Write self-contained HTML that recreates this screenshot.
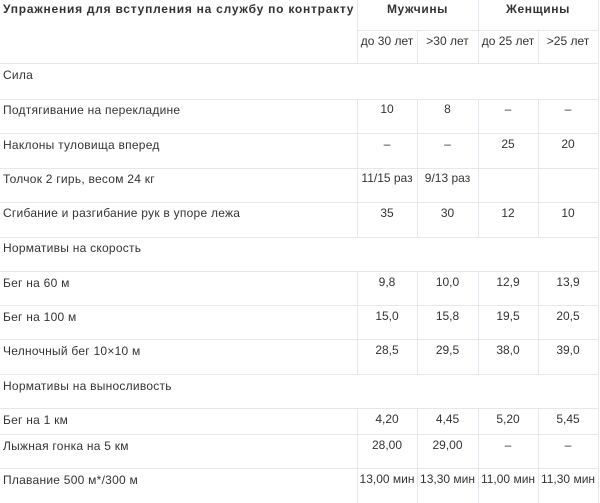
<!DOCTYPE html>
<html><head><meta charset="utf-8">
<style>
html,body{margin:0;padding:0;background:#fff;}
body{width:600px;height:503px;position:relative;overflow:hidden;font-family:"Liberation Sans","DejaVu Sans",sans-serif;font-size:12px;color:#333;}
.h{position:absolute;height:1px;background:#e6e6ec;}
.v{position:absolute;width:1px;background:#e6e6ec;}
.t{position:absolute;line-height:16px;white-space:nowrap;letter-spacing:0.25px;}
.c{position:absolute;line-height:16px;white-space:nowrap;text-align:center;}
.b{font-weight:bold;}
.t.b{letter-spacing:0.75px;}
.c.b{letter-spacing:0.6px;}
</style></head><body>
<!-- horizontal lines -->
<div class="h" style="left:357px;width:242px;top:30px"></div>
<div class="h" style="left:0;width:599px;top:63px"></div>
<div class="h" style="left:0;width:599px;top:99px"></div>
<div class="h" style="left:0;width:599px;top:133px"></div>
<div class="h" style="left:0;width:599px;top:168px"></div>
<div class="h" style="left:0;width:599px;top:202px"></div>
<div class="h" style="left:0;width:599px;top:237px"></div>
<div class="h" style="left:0;width:599px;top:271px"></div>
<div class="h" style="left:0;width:599px;top:305px"></div>
<div class="h" style="left:0;width:599px;top:339px"></div>
<div class="h" style="left:0;width:599px;top:374px"></div>
<div class="h" style="left:0;width:599px;top:408px"></div>
<div class="h" style="left:0;width:599px;top:434px"></div>
<div class="h" style="left:0;width:599px;top:468px"></div>
<!-- right border -->
<div class="v" style="left:598px;top:0;height:503px"></div>
<!-- header verticals -->
<div class="v" style="left:357px;top:0;height:63px"></div>
<div class="v" style="left:478px;top:0;height:63px"></div>
<div class="v" style="left:417px;top:30px;height:33px"></div>
<div class="v" style="left:538px;top:30px;height:33px"></div>
<!-- data block verticals -->
<div class="v" style="left:357px;top:99px;height:138px"></div>
<div class="v" style="left:417px;top:99px;height:138px"></div>
<div class="v" style="left:478px;top:99px;height:138px"></div>
<div class="v" style="left:538px;top:99px;height:138px"></div>
<div class="v" style="left:357px;top:271px;height:103px"></div>
<div class="v" style="left:417px;top:271px;height:103px"></div>
<div class="v" style="left:478px;top:271px;height:103px"></div>
<div class="v" style="left:538px;top:271px;height:103px"></div>
<div class="v" style="left:357px;top:408px;height:95px"></div>
<div class="v" style="left:417px;top:408px;height:95px"></div>
<div class="v" style="left:478px;top:408px;height:95px"></div>
<div class="v" style="left:538px;top:408px;height:95px"></div>

<!-- header -->
<div class="t b" style="left:3px;top:1px">Упражнения для вступления на службу по контракту</div>
<div class="c b" style="left:357px;width:121px;top:1px">Мужчины</div>
<div class="c b" style="left:478px;width:120px;top:1px">Женщины</div>
<div class="c" style="left:357px;width:60px;top:33px">до 30 лет</div>
<div class="c" style="left:417px;width:61px;top:33px">&gt;30 лет</div>
<div class="c" style="left:478px;width:60px;top:33px">до 25 лет</div>
<div class="c" style="left:538px;width:60px;top:33px">&gt;25 лет</div>

<!-- rows -->
<div class="t" style="left:3px;top:67px">Сила</div>

<div class="t" style="left:3px;top:102px">Подтягивание на перекладине</div>
<div class="c" style="left:357px;width:60px;top:101px">10</div>
<div class="c" style="left:417px;width:61px;top:101px">8</div>
<div class="c" style="left:478px;width:60px;top:101px">–</div>
<div class="c" style="left:538px;width:60px;top:101px">–</div>

<div class="t" style="left:3px;top:137px">Наклоны туловища вперед</div>
<div class="c" style="left:357px;width:60px;top:136px">–</div>
<div class="c" style="left:417px;width:61px;top:136px">–</div>
<div class="c" style="left:478px;width:60px;top:136px">25</div>
<div class="c" style="left:538px;width:60px;top:136px">20</div>

<div class="t" style="left:3px;top:171px">Толчок 2 гирь, весом 24 кг</div>
<div class="c" style="left:357px;width:60px;top:170px">11/15 раз</div>
<div class="c" style="left:417px;width:61px;top:170px">9/13 раз</div>

<div class="t" style="left:3px;top:205px">Сгибание и разгибание рук в упоре лежа</div>
<div class="c" style="left:357px;width:60px;top:205px">35</div>
<div class="c" style="left:417px;width:61px;top:205px">30</div>
<div class="c" style="left:478px;width:60px;top:205px">12</div>
<div class="c" style="left:538px;width:60px;top:205px">10</div>

<div class="t" style="left:3px;top:240px">Нормативы на скорость</div>

<div class="t" style="left:3px;top:275px">Бег на 60 м</div>
<div class="c" style="left:357px;width:60px;top:274px">9,8</div>
<div class="c" style="left:417px;width:61px;top:274px">10,0</div>
<div class="c" style="left:478px;width:60px;top:274px">12,9</div>
<div class="c" style="left:538px;width:60px;top:274px">13,9</div>

<div class="t" style="left:3px;top:309px">Бег на 100 м</div>
<div class="c" style="left:357px;width:60px;top:308px">15,0</div>
<div class="c" style="left:417px;width:61px;top:308px">15,8</div>
<div class="c" style="left:478px;width:60px;top:308px">19,5</div>
<div class="c" style="left:538px;width:60px;top:308px">20,5</div>

<div class="t" style="left:3px;top:343px">Челночный бег 10×10 м</div>
<div class="c" style="left:357px;width:60px;top:342px">28,5</div>
<div class="c" style="left:417px;width:61px;top:342px">29,5</div>
<div class="c" style="left:478px;width:60px;top:342px">38,0</div>
<div class="c" style="left:538px;width:60px;top:342px">39,0</div>

<div class="t" style="left:3px;top:378px">Нормативы на выносливость</div>

<div class="t" style="left:3px;top:412px">Бег на 1 км</div>
<div class="c" style="left:357px;width:60px;top:411px">4,20</div>
<div class="c" style="left:417px;width:61px;top:411px">4,45</div>
<div class="c" style="left:478px;width:60px;top:411px">5,20</div>
<div class="c" style="left:538px;width:60px;top:411px">5,45</div>

<div class="t" style="left:3px;top:438px">Лыжная гонка на 5 км</div>
<div class="c" style="left:357px;width:60px;top:437px">28,00</div>
<div class="c" style="left:417px;width:61px;top:437px">29,00</div>
<div class="c" style="left:478px;width:60px;top:437px">–</div>
<div class="c" style="left:538px;width:60px;top:437px">–</div>

<div class="t" style="left:3px;top:472px">Плавание 500 м*/300 м</div>
<div class="c" style="left:357px;width:60px;top:471px">13,00 мин</div>
<div class="c" style="left:417px;width:61px;top:471px">13,30 мин</div>
<div class="c" style="left:478px;width:60px;top:471px">11,00 мин</div>
<div class="c" style="left:538px;width:60px;top:471px">11,30 мин</div>
</body></html>
